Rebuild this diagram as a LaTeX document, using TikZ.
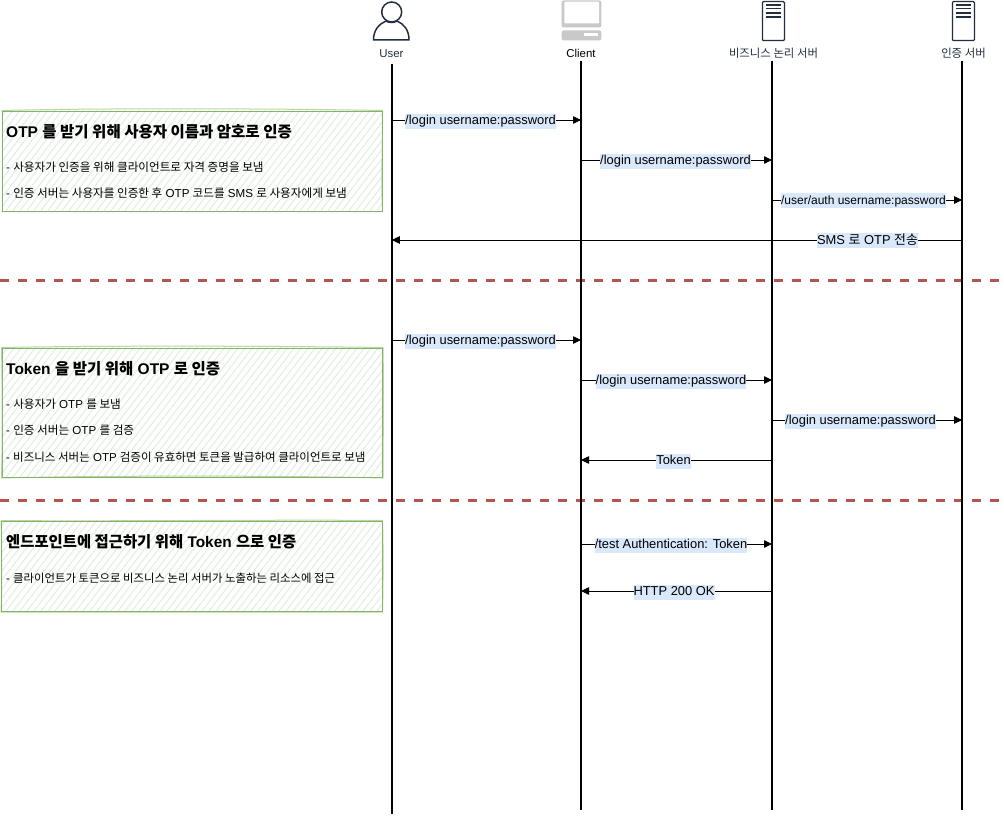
\documentclass[tikz,border=0pt]{standalone}
\usepackage{fontspec}
\setmainfont{Liberation Sans}
\newfontfamily\cjk{Noto Sans CJK KR}
\newcommand\K[1]{{\cjk #1}}
\usetikzlibrary{arrows.meta}
\definecolor{ink}{HTML}{232F3E}
\definecolor{sepred}{HTML}{B85450}
\definecolor{boxgreen}{HTML}{82B366}
\definecolor{hatchgreen}{HTML}{E3EFE1}
\definecolor{lblue}{HTML}{DAE8FC}
\definecolor{mongray}{HTML}{C9C9C9}
\tikzset{
  x=1pt,y=-1pt,
  life/.style={line width=1.9pt,black},
  msg/.style={line width=0.8pt,black,-{Triangle[length=8pt,width=7.5pt]}},
  lbl/.style={fill=lblue,inner xsep=0pt,inner ysep=1pt,text height=10pt,text depth=3pt,font=\fontsize{12.9}{14}\selectfont,text=black},
  actor/.style={font=\fontsize{11.4}{13}\selectfont,text=ink,inner sep=0pt},
  notebox/.style={draw=boxgreen,line width=1pt,anchor=north west,inner sep=0pt,fill=none},
  sketch/.style={draw=boxgreen,line width=1pt,opacity=.55},
  title/.style={anchor=west,inner sep=0pt,font=\fontsize{15.5}{17}\selectfont\bfseries,text=black},
  body/.style={anchor=west,inner sep=0pt,font=\fontsize{11.6}{13}\selectfont,text=black},
  sep/.style={line width=2.4pt,sepred,dash pattern=on 9pt off 9pt},
  srv/.style={draw=ink,line width=1.2pt,fill=white,rounded corners=1pt,inner sep=0pt,minimum width=22pt,minimum height=39pt,anchor=north west},
  srvline/.style={ink,line width=1.1pt},
  icon/.style={ink,line width=1.5pt},
}
\newcommand\hatch[4]{%
  \begin{scope}
    \clip (#1,#3) rectangle (#2,#4);
    \foreach \i in {-120,-113,...,400}{
      \draw[hatchgreen,line width=1.1pt] (\i,#4) -- ++(100,-130);
    }
  \end{scope}}
\begin{document}
\begin{tikzpicture}
\useasboundingbox (0,0) rectangle (1004,816);
\fill[white] (0,0) rectangle (1004,816);

% row coordinates
\foreach \r in {120,160,200,240,340,380,420,460,544,591}{
  \coordinate (u\r) at (391.8,\r);
  \coordinate (c\r) at (581,\r);
  \coordinate (b\r) at (772,\r);
  \coordinate (a\r) at (962.1,\r);
}
\coordinate (utop) at (391.8,64);
\coordinate (ubot) at (391.8,814);
\coordinate (ctop) at (581,61);
\coordinate (cbot) at (581,810);
\coordinate (btop) at (772,61);
\coordinate (bbot) at (772,810);
\coordinate (atop) at (962.1,61);
\coordinate (abot) at (962.1,810);
\coordinate (s1a) at (0,280.5);
\coordinate (s1b) at (1004,280.5);
\coordinate (s2a) at (0,500.5);
\coordinate (s2b) at (1004,500.5);

% hatch fills
\hatch{1.5}{381.5}{110.5}{210.5}
\hatch{1.5}{382}{347.5}{477}
\hatch{1}{381.5}{520.5}{611}

% note boxes
\node[notebox,minimum width=380pt,minimum height=100pt] (n1) at (1.5,110.5) {};
\node[notebox,minimum width=380.5pt,minimum height=129.5pt] (n2) at (1.5,347.5) {};
\node[notebox,minimum width=380.5pt,minimum height=90.5pt] (n3) at (1,520.5) {};
\draw[sketch] (n1.north west) .. controls (100,108) and (280,108.5) .. (n1.north east) .. controls (382.5,150) and (381,180) .. (n1.south east) .. controls (280,212) and (100,211.5) .. (n1.south west);
\draw[sketch] (n2.north west) .. controls (100,345.5) and (280,346) .. (n2.north east) .. controls (384,400) and (383,440) .. (n2.south east) .. controls (280,475.5) and (100,475.5) .. (n2.south west) .. controls (2.5,440) and (2.5,400) .. (n2.north west);
\draw[sketch] (n3.north west) .. controls (100,521.5) and (280,519.5) .. (n3.north east) .. controls (383.5,550) and (383,590) .. (n3.south east) .. controls (280,612) and (100,612.5) .. (n3.south west) .. controls (2,590) and (2,550) .. (n3.north west);

\node[title] (t1) at (6,132) {OTP \K{를 받기 위해 사용자 이름과 암호로 인증}};
\node[body] (t1a) at (6,167) {- \K{사용자가 인증을 위해 클라이언트로 자격 증명을 보냄}};
\node[body] (t1b) at (6,193.5) {- \K{인증 서버는 사용자를 인증한 후} OTP \K{코드를} SMS \K{로 사용자에게 보냄}};

\node[title] (t2) at (6,369) {Token \K{을 받기 위해} OTP \K{로 인증}};
\node[body] (t2a) at (6,404) {- \K{사용자가} OTP \K{를 보냄}};
\node[body] (t2b) at (6,430) {- \K{인증 서버는} OTP \K{를 검증}};
\node[body,font=\fontsize{11.5}{13}\selectfont] (t2c) at (6,457) {- \K{비즈니스 서버는} OTP \K{검증이 유효하면 토큰을 발급하여 클라이언트로 보냄}};

\node[title,font=\fontsize{15.4}{17}\selectfont\bfseries] (t3) at (6,541.5) {\K{엔드포인트에 접근하기 위해} Token \K{으로 인증}};
\node[body,font=\fontsize{11.4}{13}\selectfont] (t3a) at (6,578) {- \K{클라이언트가 토큰으로 비즈니스 논리 서버가 노출하는 리소스에 접근}};

% separators
\draw[sep] (s1a) -- (s1b);
\draw[sep] (s2a) -- (s2b);

% lifelines
\draw[life] (utop) -- (ubot);
\draw[life] (ctop) -- (cbot);
\draw[life] (btop) -- (bbot);
\draw[life] (atop) -- (abot);

% actor icons
\node[circle,draw=ink,line width=1.5pt,inner sep=0pt,minimum size=20pt] (uhead) at (391.7,12) {};
\draw[icon,line join=round] (373.5,40) .. controls (373.5,30) and (379,24) .. (386,21) .. controls (389,23) and (394,23) .. (397,21) .. controls (404,24) and (409,30) .. (409,40) -- cycle;

\fill[mongray,rounded corners=2pt] (561.7,0.5) rectangle (601.3,27.5);
\fill[white,rounded corners=1pt] (564.3,1.6) rectangle (599,23.5);
\fill[mongray,rounded corners=2pt] (561.7,30.5) rectangle (601.3,40.5);
\fill[white] (583.5,33.3) rectangle (598,36);

\node[srv] (s1) at (761.8,1) {};
\node[srv] (s2) at (951.8,1) {};
\foreach \yy in {5,8.5,13,17}{
  \draw[srvline] (765.7,\yy) -- (780.7,\yy);
  \draw[srvline] (955.7,\yy) -- (970.7,\yy);
}

% actor labels
\node[actor] (user) at (391.5,53.5) {User};
\node[actor,text=black] (client) at (581,53.5) {Client};
\node[actor] (biz) at (773.5,53.5) {\K{비즈니스 논리 서버}};
\node[actor] (auth) at (963.5,53.5) {\K{인증 서버}};

% messages
\draw[msg] (u120) -- (c120);
\node[lbl] (m1) at (480.5,121) {/login username:password};
\draw[msg] (c160) -- (b160);
\node[lbl] (m2) at (675.5,161) {/login username:password};
\draw[msg] (b200) -- (a200);
\node[lbl,font=\fontsize{12}{14}\selectfont] (m3) at (863.5,200.5) {/user/auth username:password};
\draw[msg] (a240) -- (u240);
\node[lbl] (m4) at (867.5,240.5) {SMS \K{로} OTP \K{전송}};
\draw[msg] (u340) -- (c340);
\node[lbl] (m5) at (480.5,341) {/login username:password};
\draw[msg] (c380) -- (b380);
\node[lbl] (m6) at (671,381) {/login username:password};
\draw[msg] (b420) -- (a420);
\node[lbl] (m7) at (860.5,421) {/login username:password};
\draw[msg] (b460) -- (c460);
\node[lbl] (m8) at (673.5,461) {Token};
\draw[msg] (c544) -- (b544);
\node[lbl] (m9) at (671,545) {/test Authentication: Token};
\draw[msg] (b591) -- (c591);
\node[lbl] (m10) at (674,592) {HTTP 200 OK};
\end{tikzpicture}
\end{document}
